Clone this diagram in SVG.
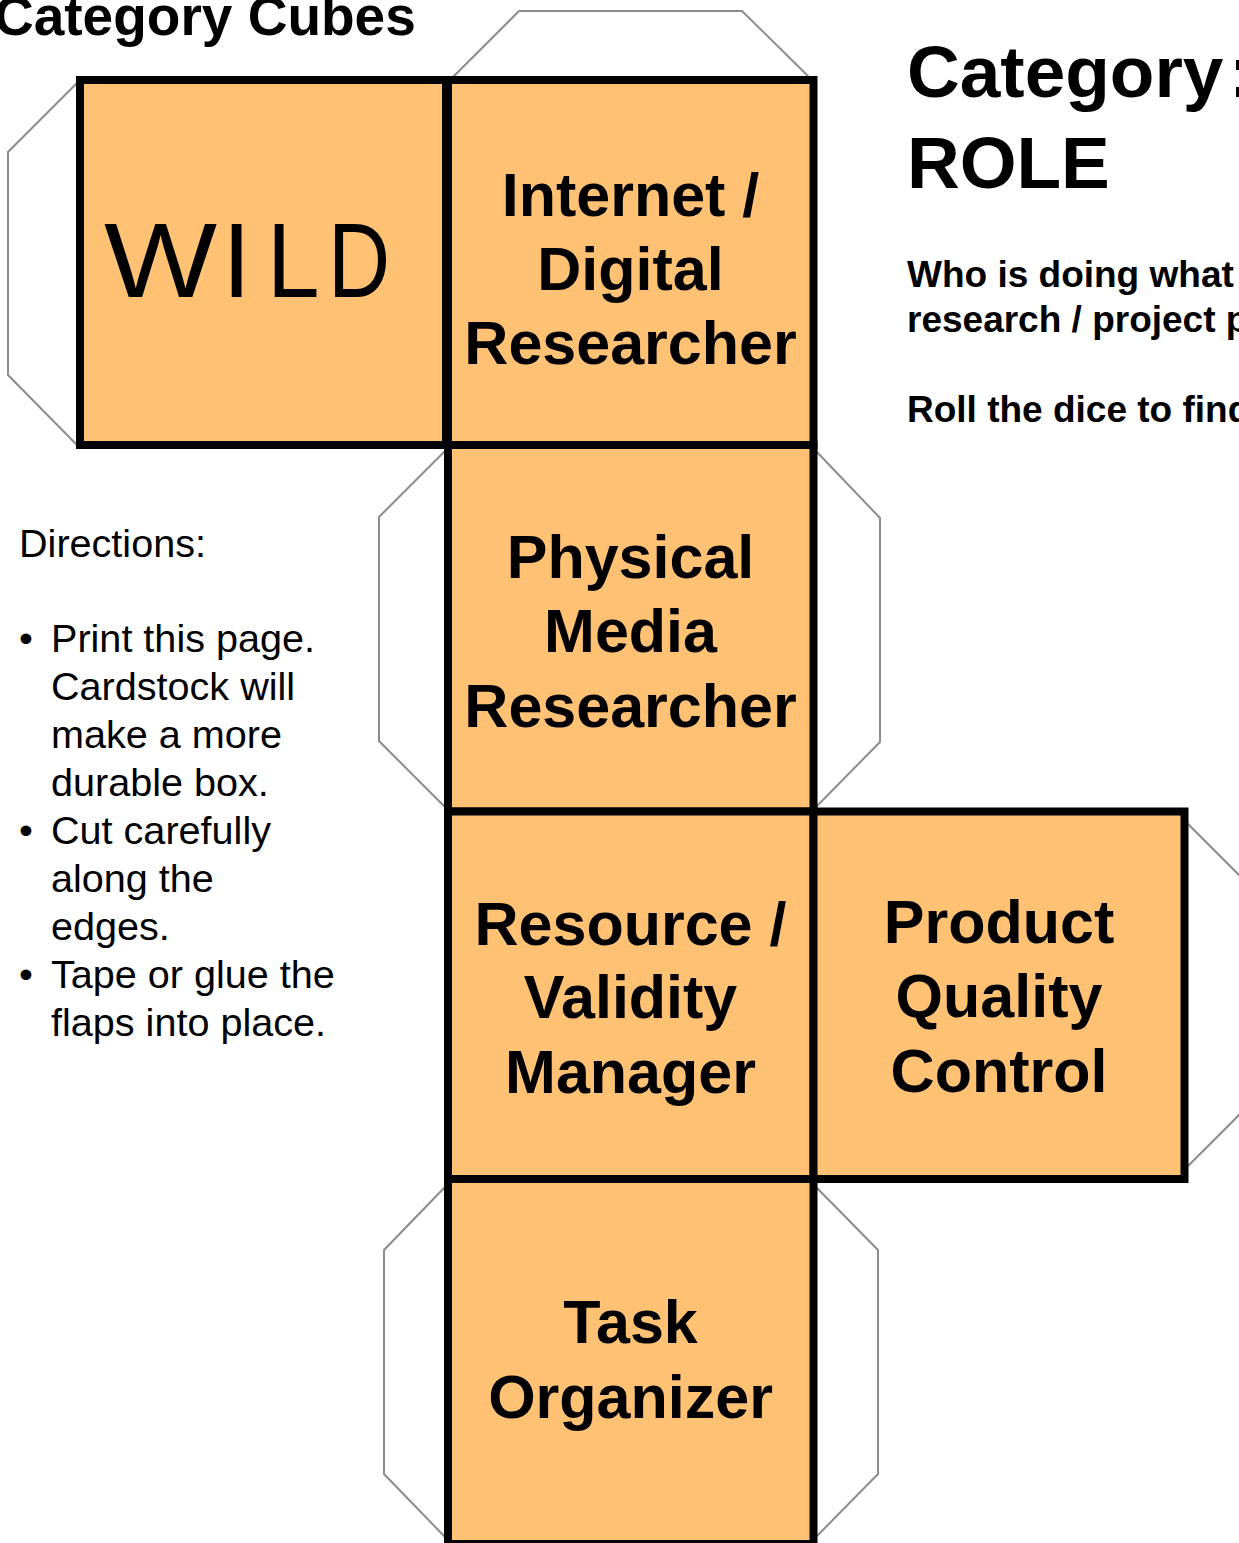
<svg xmlns="http://www.w3.org/2000/svg" width="1239" height="1543" viewBox="0 0 1239 1543">
<style>
.flap{fill:none;stroke:#8c8c8c;stroke-width:2;stroke-linejoin:miter}
.face{fill:#ffc174;stroke:#000;stroke-width:8}
.lbl{font-family:"Liberation Sans",Arial,Helvetica,sans-serif;font-weight:bold;font-size:61px;fill:#000;text-anchor:middle}
.head{font-family:"Liberation Sans",Arial,Helvetica,sans-serif;font-weight:bold;fill:#000}
.dir{font-family:"Liberation Sans",Arial,Helvetica,sans-serif;font-size:39.6px;fill:#000}
.wild{font-family:"Liberation Sans",Arial,sans-serif;font-size:105px;fill:#000}
</style>
<rect width="1239" height="1543" fill="#fff"/>
<g id="flaps">
<polyline class="flap" points="77,83 8,152 8,375 77,445"/>
<polyline class="flap" points="452,78 519,11 742,11 810,78"/>
<polyline class="flap" points="446,450 379,517 379,741 446,808"/>
<polyline class="flap" points="815,450 880,518 880,742 815,808"/>
<polyline class="flap" points="1187,823 1257,893 1257,1097 1187,1167"/>
<polyline class="flap" points="446,1186 384,1250 384,1474 446,1538"/>
<polyline class="flap" points="815,1186 878,1250 878,1474 815,1538"/>
</g>
<g id="face-wild">
<rect class="face" x="80" y="80" width="366" height="365"/>
<text class="wild" transform="translate(104,297) scale(1.14,1)" x="0" y="0">W</text>
<text class="wild" x="222" y="297">I</text>
<text class="wild" transform="translate(274,297) scale(0.9,1)" x="-7.7" y="0">L</text>
<text class="wild" transform="translate(335,297) scale(0.82,1)" x="-8.4" y="0">D</text>
</g>
<g id="face-internet">
<rect class="face" x="448" y="80" width="365.5" height="365"/>
<text class="lbl"><tspan x="630.5" y="216">Internet /</tspan><tspan x="630.5" y="290">Digital</tspan><tspan x="630.5" y="364">Researcher</tspan></text>
</g>
<g id="face-physical">
<rect class="face" x="448" y="445" width="365.5" height="366.5"/>
<text class="lbl"><tspan x="630.5" y="578">Physical</tspan><tspan x="630.5" y="652">Media</tspan><tspan x="630.5" y="727">Researcher</tspan></text>
</g>
<g id="face-resource">
<rect class="face" x="448" y="811.5" width="365.5" height="367.5"/>
<text class="lbl"><tspan x="630.5" y="945">Resource /</tspan><tspan x="630.5" y="1018">Validity</tspan><tspan x="630.5" y="1093">Manager</tspan></text>
</g>
<g id="face-product">
<rect class="face" x="813.5" y="811.5" width="371" height="367.5"/>
<text class="lbl"><tspan x="999" y="943">Product</tspan><tspan x="999" y="1017">Quality</tspan><tspan x="999" y="1092">Control</tspan></text>
</g>
<g id="face-task">
<rect class="face" x="448" y="1179" width="365.5" height="365"/>
<text class="lbl"><tspan x="630.5" y="1343">Task</tspan><tspan x="630.5" y="1418">Organizer</tspan></text>
</g>
<g id="title">
<text class="head" x="-6" y="35" font-size="55">Category Cubes</text>
</g>
<g id="category-heading">
<text class="head" font-size="73"><tspan x="907" y="97">Category</tspan><tspan x="1229" y="97">:</tspan><tspan x="907" y="188">ROLE</tspan></text>
<text class="head" font-size="37"><tspan x="907" y="287">Who is doing what</tspan><tspan x="907" y="332">research / project p</tspan><tspan x="907" y="422">Roll the dice to find</tspan></text>
</g>
<g id="directions">
<text class="dir" x="19" y="557">Directions:</text>
<text class="dir"><tspan x="19" y="652">•</tspan><tspan x="51" y="652">Print this page.</tspan><tspan x="51" y="700">Cardstock will</tspan><tspan x="51" y="748">make a more</tspan><tspan x="51" y="796">durable box.</tspan><tspan x="19" y="844">•</tspan><tspan x="51" y="844">Cut carefully</tspan><tspan x="51" y="892">along the</tspan><tspan x="51" y="940">edges.</tspan><tspan x="19" y="988">•</tspan><tspan x="51" y="988">Tape or glue the</tspan><tspan x="51" y="1036">flaps into place.</tspan></text>
</g>
</svg>
